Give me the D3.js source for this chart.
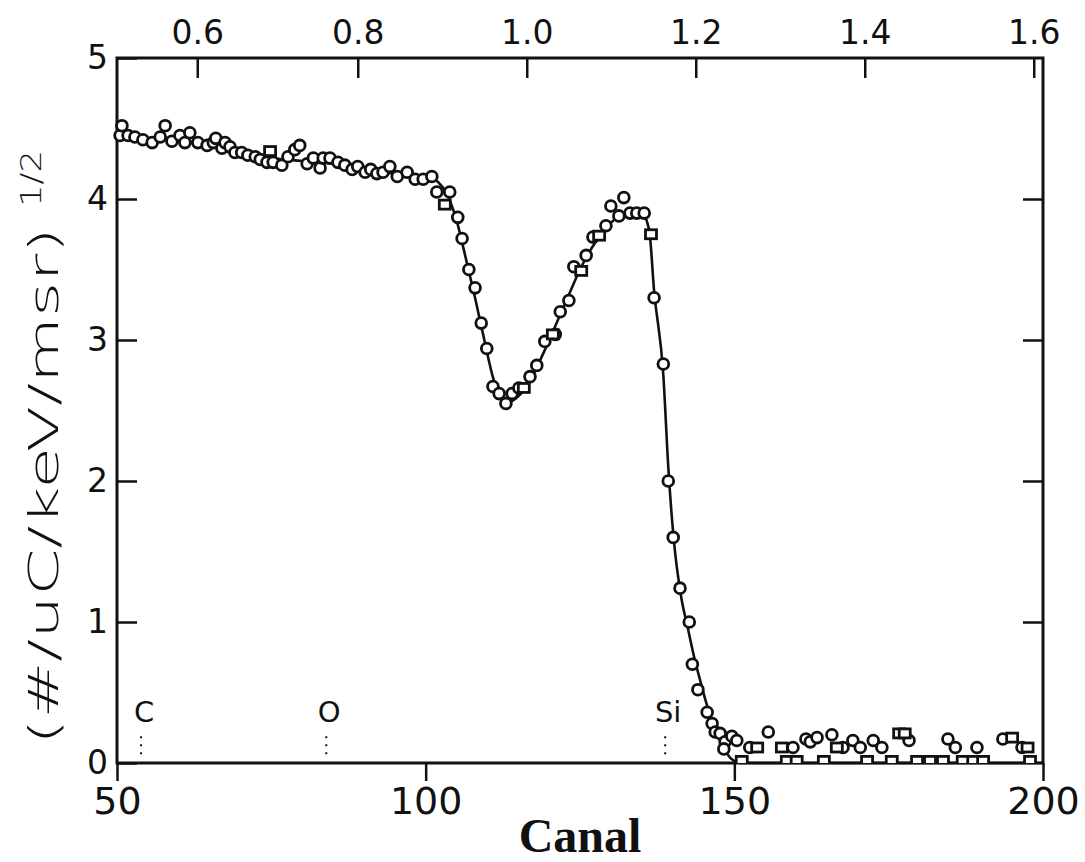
<!DOCTYPE html>
<html>
<head>
<meta charset="utf-8">
<script src="https://cdn.jsdelivr.net/npm/d3@7"></script>
<style>
  body { margin: 0; background: #fff; }
  svg { display: block; }
  .axis text { fill: #111; font-family: "DejaVu Sans", sans-serif; }
  .axis line { stroke: #111; stroke-width: 2.5px; }
  .axis path { display: none; }
</style>
</head>
<body>
<svg id="chart"></svg>
<script>
// open circles (canal, sqrt yield)
const circleCanal = [50.5, 50.8, 51.8, 52.9, 54.2, 55.7, 57.0, 57.8, 58.9, 60.2, 61.0, 61.8, 63.1, 64.6, 65.6, 66.0, 67.0, 67.5, 68.3, 69.1,
  70.2, 71.2, 72.4, 73.2, 74.3, 75.3, 76.7, 77.7, 78.8, 79.6, 80.8, 81.8, 82.9, 83.4, 84.5, 85.8, 86.9, 88.1, 89.0, 90.2,
  91.1, 92.1, 93.1, 94.2, 95.4, 97.0, 98.3, 99.6, 101.0, 101.8, 103.9, 105.2, 105.9, 107.0, 108.0, 109.0, 109.9, 110.9, 111.9, 113.0,
  114.0, 115.1, 116.9, 118.0, 119.3, 121.0, 121.8, 123.2, 124.0, 126.0, 127.1, 129.2, 130.0, 131.3, 132.1, 133.1, 134.2, 135.4, 137.0, 138.5,
  139.3, 140.1, 141.2, 142.7, 143.2, 144.1, 145.6, 146.4, 146.9, 147.7, 148.5, 148.3, 149.6, 150.4, 152.5, 155.5, 159.5, 161.6, 162.3, 163.4,
  165.8, 167.6, 169.2, 170.4, 172.5, 173.9, 178.3, 184.6, 185.8, 189.3, 193.5, 196.6];
const circleValue = [4.45, 4.52, 4.45, 4.44, 4.42, 4.40, 4.44, 4.52, 4.41, 4.45, 4.40, 4.47, 4.40, 4.38, 4.40, 4.43, 4.36, 4.40, 4.37, 4.33,
  4.33, 4.31, 4.30, 4.28, 4.26, 4.26, 4.24, 4.30, 4.35, 4.38, 4.25, 4.29, 4.22, 4.29, 4.29, 4.26, 4.24, 4.21, 4.23, 4.19,
  4.21, 4.18, 4.19, 4.23, 4.16, 4.19, 4.14, 4.14, 4.16, 4.05, 4.05, 3.87, 3.72, 3.50, 3.37, 3.12, 2.94, 2.67, 2.62, 2.55,
  2.62, 2.66, 2.74, 2.82, 2.99, 3.04, 3.20, 3.28, 3.52, 3.60, 3.73, 3.81, 3.95, 3.88, 4.01, 3.90, 3.90, 3.90, 3.30, 2.83,
  2.00, 1.60, 1.24, 1.00, 0.70, 0.52, 0.36, 0.28, 0.22, 0.21, 0.15, 0.10, 0.19, 0.16, 0.11, 0.22, 0.11, 0.17, 0.15, 0.18,
  0.20, 0.11, 0.16, 0.11, 0.16, 0.11, 0.16, 0.17, 0.11, 0.11, 0.17, 0.11];

// open squares
const squareCanal = [74.8, 103.1, 115.9, 120.6, 125.2, 128.1, 136.5, 153.7, 157.7, 166.6, 176.7, 177.6, 195.0, 197.5];
const squareValue = [4.34, 3.96, 2.66, 3.04, 3.49, 3.74, 3.75, 0.11, 0.11, 0.11, 0.21, 0.21, 0.18, 0.11];

// points lying on the baseline (half hidden by the axis)
const baseCanal = [151.2, 158.5, 160.1, 164.5, 171.5, 175.5, 179.6, 181.7, 183.8, 187.0, 188.7, 190.3, 197.9];
const baseValue = [0.015, 0.015, 0.015, 0.015, 0.015, 0.015, 0.015, 0.015, 0.015, 0.015, 0.015, 0.015, 0.015];

// fitted curve
const fitCanal = [50, 55, 60, 65, 70, 75, 80, 85, 90, 95, 100, 102, 103.5, 105, 106.5, 108, 109.5, 111, 112.5, 113.5,
  115, 117, 119, 121, 123, 125, 127, 129, 131, 133, 135, 136.2, 137, 138.5, 139.3, 140.2, 141.3, 142.5, 143.5, 144.5,
  145.5, 146.5, 147.5, 148.5, 149.5, 151, 200];
const fitValue = [4.46, 4.43, 4.41, 4.38, 4.33, 4.29, 4.27, 4.25, 4.21, 4.18, 4.16, 4.12, 4.03, 3.85, 3.58, 3.30, 3.00, 2.72, 2.57, 2.56,
  2.60, 2.72, 2.90, 3.10, 3.30, 3.50, 3.66, 3.78, 3.87, 3.91, 3.90, 3.78, 3.35, 2.75, 2.10, 1.58, 1.20, 0.95, 0.75, 0.58,
  0.42, 0.29, 0.18, 0.09, 0.03, 0, 0];

// element surface positions
const elementNames = ["C", "O", "Si"];
const elementCanal = [53.9, 83.9, 138.8];

// axes
const canalTicks = [50, 100, 150, 200];
const yieldTicks = [0, 1, 2, 3, 4, 5];
const energyTicks = [0.6, 0.8, 1.0, 1.2, 1.4, 1.6];
const energyCalib = [0.6, 0.8, 1.6];          // MeV
const energyCalibCanal = [63.0, 89.0, 198.5]; // canal at those energies

const W = 1085, H = 862;
const margin = {top: 58, right: 42, bottom: 99, left: 117};
const width = W - margin.left - margin.right;
const height = H - margin.top - margin.bottom;

const svg = d3.select('#chart').attr('width', W).attr('height', H);
const chart = svg.append('g').attr('transform', `translate(${margin.left},${margin.top})`);

const x = d3.scaleLinear().domain([50, 200]).range([0, width]);
const y = d3.scaleLinear().domain([0, 5]).range([height, 0]);
const xE = d3.scaleLinear().domain(energyCalib).range(energyCalibCanal.map(x));

// frame
chart.append('rect')
  .attr('width', width).attr('height', height)
  .attr('fill', 'none').attr('stroke', '#111').attr('stroke-width', 3);

// bottom axis, ticks outward
chart.append('g').attr('class', 'axis')
  .attr('transform', `translate(0,${height})`)
  .call(d3.axisBottom(x).tickValues(canalTicks).tickSize(18).tickPadding(6))
  .selectAll('text').style('font-size', '38px');

// left axis, ticks inward
chart.append('g').attr('class', 'axis')
  .call(d3.axisLeft(y).tickValues(yieldTicks).tickSize(-20).tickPadding(9).tickFormat(d3.format('d')))
  .selectAll('text').style('font-size', '33px');

// right axis
chart.append('g').attr('class', 'axis')
  .attr('transform', `translate(${width},0)`)
  .call(d3.axisRight(y).tickValues([1, 2, 3, 4]).tickSize(-20).tickFormat(''));

// top energy axis
chart.append('g').attr('class', 'axis')
  .call(d3.axisTop(xE).tickValues(energyTicks).tickSize(-20).tickPadding(14).tickFormat(d3.format('.1f')))
  .selectAll('text').style('font-size', '33px');

// fitted curve
const fitData = fitCanal.map((c, i) => ({c, v: fitValue[i]}));
chart.append('path')
  .datum(fitData)
  .attr('fill', 'none').attr('stroke', '#111').attr('stroke-width', 2.6)
  .attr('d', d3.line().x(d => x(d.c)).y(d => y(d.v)).curve(d3.curveMonotoneX));

// clip for points sitting on the baseline
chart.append('clipPath').attr('id', 'plotClip')
  .append('rect').attr('width', width).attr('height', height);

const circles = circleCanal.map((c, i) => ({c, v: circleValue[i]}));
const squares = squareCanal.map((c, i) => ({c, v: squareValue[i]}));
const baseline = baseCanal.map((c, i) => ({c, v: baseValue[i]}));

chart.append('g').selectAll('circle')
  .data(circles).join('circle')
  .attr('cx', d => x(d.c)).attr('cy', d => y(d.v)).attr('r', 5.4)
  .attr('fill', '#fff').attr('stroke', '#111').attr('stroke-width', 2.8);

chart.append('g').selectAll('rect')
  .data(squares).join('rect')
  .attr('x', d => x(d.c) - 5.5).attr('y', d => y(d.v) - 4.5)
  .attr('width', 11).attr('height', 9)
  .attr('fill', '#fff').attr('stroke', '#111').attr('stroke-width', 2.8);

chart.append('g').attr('clip-path', 'url(#plotClip)')
  .selectAll('rect')
  .data(baseline).join('rect')
  .attr('x', d => x(d.c) - 5.5).attr('y', d => y(d.v) - 4.5)
  .attr('width', 11).attr('height', 9)
  .attr('fill', '#fff').attr('stroke', '#111').attr('stroke-width', 2.8);

// element markers
const elems = elementNames.map((n, i) => ({n, c: elementCanal[i]}));
const eg = chart.append('g').selectAll('g').data(elems).join('g')
  .attr('transform', d => `translate(${x(d.c)},0)`);
eg.append('line')
  .attr('y1', y(0.19)).attr('y2', y(0.04))
  .attr('stroke', '#111').attr('stroke-width', 2).attr('stroke-dasharray', '2,6');
eg.append('text')
  .attr('x', 3).attr('y', y(0.29))
  .attr('text-anchor', 'middle')
  .style('font-family', '"DejaVu Sans", sans-serif').style('font-size', '29px').style('fill', '#111')
  .text(d => d.n);

// y label: wide plotter-style glyphs, stretched to the reference length
function stretchedLabel(txt, px, py, size, len) {
  const t = svg.append('text')
    .style('font-family', '"DejaVu Sans", sans-serif').style('font-size', size + 'px')
    .style('font-weight', 300).style('fill', '#111')
    .text(txt);
  const natural = t.node().getComputedTextLength();
  t.attr('transform', `translate(${px},${py}) rotate(-90) scale(${len / natural},1)`);
}
stretchedLabel('(#/uC/keV/msr)', 58, 745, 41, 518);
stretchedLabel('1/2', 41, 207, 28, 57);

// x label
svg.append('text')
  .attr('x', 580).attr('y', 852)
  .attr('text-anchor', 'middle')
  .style('font-family', '"Liberation Serif", "Times New Roman", serif').style('font-size', '48px').style('font-weight', 'bold')
  .style('fill', '#111')
  .text('Canal');
</script>
</body>
</html>
